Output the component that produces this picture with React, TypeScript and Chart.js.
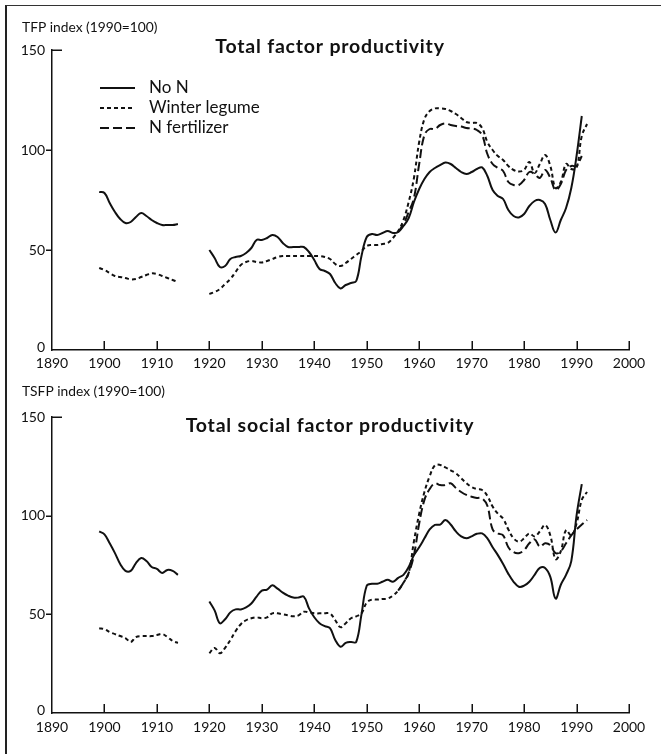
import React, { useEffect, useRef } from "react";
import { Chart, registerables } from "chart.js";

Chart.register(...registerables);

// ---------- DATA ----------
const years = [
  1899,
  1900, 1901, 1902, 1903, 1904, 1905, 1906, 1907, 1908, 1909,
  1910, 1911, 1912, 1913, 1914, 1915, 1916, 1917, 1918, 1919,
  1920, 1921, 1922, 1923, 1924, 1925, 1926, 1927, 1928, 1929,
  1930, 1931, 1932, 1933, 1934, 1935, 1936, 1937, 1938, 1939,
  1940, 1941, 1942, 1943, 1944, 1945, 1946, 1947, 1948, 1949,
  1950, 1951, 1952, 1953, 1954, 1955, 1956, 1957, 1958, 1959,
  1960, 1961, 1962, 1963, 1964, 1965, 1966, 1967, 1968, 1969,
  1970, 1971, 1972, 1973, 1974, 1975, 1976, 1977, 1978, 1979,
  1980, 1981, 1982, 1983, 1984, 1985, 1986, 1987, 1988, 1989,
  1990, 1991, 1992,
];

const seriesLabels = ["No N", "Winter legume", "N fertilizer"];

const tfpNoN = [
  79,
  78.5, 73.5, 69, 65.5, 63.5, 64, 66.5, 68.5, 67, 65,
  63.5, 62.5, 62.5, 62.5, 63, null, null, null, null, null,
  50, 46, 41.5, 42, 45.5, 46.5, 47, 48.5, 51, 55,
  55, 56, 57.5, 56.5, 53.5, 51.5, 51.5, 51.5, 51.5, 49,
  45, 40.5, 39.5, 38, 33.5, 30.8, 32.5, 33.5, 34.5, 47,
  56.5, 58, 57.5, 58.5, 59.5, 58.5, 59, 62, 66, 74,
  80.5, 85.5, 89, 91, 92.5, 93.7, 93, 91, 89, 88,
  89, 90.5, 91.3, 87, 80, 77, 75.5, 70, 67, 66.3,
  68, 72, 74.5, 75, 73, 65, 58.7, 65, 71, 81,
  97, 117, null,
];

const tfpWinterLegume = [
  41,
  40, 38.5, 37, 36.5, 36, 35.3, 35.5, 36.5, 37.5, 38.3,
  38, 37, 36, 35, 34, null, null, null, null, null,
  28, 29, 30.5, 33, 35.5, 39, 42.5, 44, 44.5, 44,
  43.8, 44.5, 45.5, 46.5, 47, 47, 47, 47, 47, 47,
  47, 47, 46.5, 45.5, 43, 42, 43.5, 45.5, 47.5, 49.5,
  52, 52.5, 52.5, 53, 53.5, 56, 59.5, 65, 74, 86,
  104, 115.5, 119.5, 120.8, 120.8, 120.5, 119.5, 118, 116, 114,
  113.5, 113.5, 111, 104, 100, 97, 95, 92, 90, 89.2,
  90, 94, 88.5, 93, 97.5, 92, 81, 84, 93, 90.5,
  91, 107, 113,
];

const tfpNFertilizer = [
  null,
  null, null, null, null, null, null, null, null, null, null,
  null, null, null, null, null, null, null, null, null, null,
  null, null, null, null, null, null, null, null, null, null,
  null, null, null, null, null, null, null, null, null, null,
  null, null, null, null, null, null, null, null, null, null,
  null, null, null, null, null, null, 59, 63, 69, 76,
  93, 107.5, 110.5, 110.5, 112.5, 113.3, 112.5, 112, 111.7, 111,
  110.8, 110, 107.5, 98, 93, 91, 89.5, 84, 82.5, 82.5,
  85, 89, 88, 86, 90, 86, 80, 83, 90, 92,
  92, 97, null,
];

const tsfpNoN = [
  92,
  90.5, 86, 81, 75.5, 72, 72, 76, 78.5, 77, 74,
  73, 71, 72.5, 72, 70, null, null, null, null, null,
  56.5, 52, 45.5, 47.5, 51, 52.5, 52.5, 53.5, 55.5, 59,
  62, 62.5, 64.7, 63, 61, 59.5, 58.5, 58.5, 59, 53,
  48.5, 45.5, 44, 43, 37, 33.6, 35.5, 36, 36, 50,
  64.5, 65.5, 65.5, 66.5, 67.5, 66.5, 68.5, 70, 74, 80,
  84, 88.5, 93, 95.3, 95.5, 97.8, 95.5, 92, 89.5, 88.5,
  89.5, 90.8, 91, 88.5, 84, 80, 75.5, 70.5, 66.5, 64,
  64.5, 66.5, 70, 73.5, 73.5, 69, 58, 65, 70, 77,
  100, 116, null,
];

const tsfpWinterLegume = [
  43,
  42.5, 41, 40, 39, 38, 36, 38.5, 39, 39, 39,
  39.5, 40, 38.5, 36.5, 35.5, null, null, null, null, null,
  30.3, 33, 30.3, 33, 37, 41.5, 45, 47, 48, 48.5,
  48, 48.5, 50.5, 50.5, 50, 49.5, 49, 49.5, 51.3, 51,
  50.5, 50.5, 50.5, 50.5, 47, 43.5, 45.5, 48, 49, 50.5,
  56, 57.5, 57.5, 57.8, 58, 59.5, 62, 66, 71, 87,
  101, 112, 120, 125.5, 125.7, 124.5, 123, 121.5, 119, 116.5,
  114.5, 113.5, 113, 110, 104.6, 101, 98.5, 93, 88.5, 86.8,
  88.5, 91, 89.5, 92, 95.3, 90, 78, 82, 92.7, 90,
  96, 108, 112,
];

const tsfpNFertilizer = [
  null,
  null, null, null, null, null, null, null, null, null, null,
  null, null, null, null, null, null, null, null, null, null,
  null, null, null, null, null, null, null, null, null, null,
  null, null, null, null, null, null, null, null, null, null,
  null, null, null, null, null, null, null, null, null, null,
  null, null, null, null, null, null, 62, 66, 71, 80,
  96, 108, 113.5, 116.4, 115.5, 115.5, 116.4, 114, 112, 110.5,
  109.6, 109, 108.8, 105, 93, 91, 90, 84, 81.5, 81,
  82.5, 86, 88, 84.3, 86, 85, 81, 82, 86, 90,
  93, 95.5, 97.8,
];

const xTickLabels = [1890, 1900, 1910, 1920, 1930, 1940, 1950, 1960, 1970, 1980, 1990, 2000];
const yTickLabels = [0, 50, 100, 150];

// ---------- CHART ----------
const FONT = "Lato, 'Open Sans', sans-serif";

const decorPlugin = {
  id: "decor",
  afterDraw(chart: any, _args: any, opts: any) {
    const ctx = chart.ctx as any;
    const xs = chart.scales.x;
    const ys = chart.scales.y;
    const x0 = xs.getPixelForValue(xTickLabels[0]);
    const y0 = ys.getPixelForValue(0);
    ctx.save();
    ctx.strokeStyle = "#111";
    ctx.fillStyle = "#111";
    ctx.lineWidth = 1.5;
    // x tick marks (pointing up into the plot)
    xTickLabels.forEach((v, i) => {
      if (i === 0) return;
      const px = Math.round(xs.getPixelForValue(v)) + 0.25;
      ctx.beginPath();
      ctx.moveTo(px, y0);
      ctx.lineTo(px, y0 - 9);
      ctx.stroke();
    });
    // y tick marks
    yTickLabels.forEach((v) => {
      if (v === 0) return;
      const py = Math.round(ys.getPixelForValue(v)) + 0.25;
      ctx.beginPath();
      if (v === yTickLabels[yTickLabels.length - 1]) {
        ctx.moveTo(x0, py);
        ctx.lineTo(x0 + 10, py);
      } else {
        ctx.moveTo(x0 - 6, py);
        ctx.lineTo(x0, py);
      }
      ctx.stroke();
    });
    // y tick labels
    ctx.font = `14px ${FONT}`;
    ctx.textAlign = "right";
    ctx.textBaseline = "middle";
    yTickLabels.forEach((v) => {
      const py = ys.getPixelForValue(v) - (v === 0 ? 3 : 0);
      ctx.fillText(String(v), x0 - 7, py);
    });
    // axis title
    ctx.textAlign = "left";
    ctx.font = `13.8px ${FONT}`;
    ctx.fillText(opts.yTitle, 22, opts.yTitleY);
    // main title
    ctx.textAlign = "center";
    ctx.textBaseline = "alphabetic";
    ctx.font = `bold 19.5px ${FONT}`;
    ctx.letterSpacing = "0.8px";
    ctx.fillText(opts.title, 330, opts.titleBaseline);
    ctx.letterSpacing = "0px";
    // legend
    if (opts.legend) {
      chart.data.datasets.forEach((ds: any, i: number) => {
        const y = 88 + i * 20;
        ctx.setLineDash(ds.borderDash || []);
        ctx.lineWidth = ds.borderWidth;
        ctx.beginPath();
        ctx.moveTo(100, y);
        ctx.lineTo(135, y);
        ctx.stroke();
        ctx.setLineDash([]);
        ctx.font = `17px ${FONT}`;
        ctx.textAlign = "left";
        ctx.textBaseline = "middle";
        ctx.fillText(ds.label, 149, y);
      });
    }
    ctx.restore();
  },
};

type PanelProps = {
  width: number;
  height: number;
  padTop: number;
  xAxisH: number;
  xLabelPad: number;
  yTitle: string;
  yTitleY: number;
  title: string;
  titleBaseline: number;
  values: (number | null)[][];
  legend: boolean;
};

const dashes: number[][] = [[], [4, 3], [9, 4]];

function Panel(p: PanelProps) {
  const ref = useRef<HTMLCanvasElement>(null);
  useEffect(() => {
    if (!ref.current) return;
    const chart = new Chart(ref.current, {
      type: "line",
      data: {
        datasets: p.values.map((vals, i) => ({
          label: seriesLabels[i],
          data: years.map((x, j) => ({ x, y: vals[j] })),
          borderColor: "#111",
          borderWidth: 2,
          borderDash: dashes[i],
          pointRadius: 0,
          tension: 0.4,
          spanGaps: false,
          fill: false,
        })),
      },
      options: {
        animation: false,
        responsive: false,
        maintainAspectRatio: false,
        devicePixelRatio: 1,
        layout: { padding: { top: p.padTop, right: 32, left: 0, bottom: 0 } },
        plugins: {
          legend: { display: false },
          tooltip: { enabled: false },
          decor: {
            yTitle: p.yTitle,
            yTitleY: p.yTitleY,
            title: p.title,
            titleBaseline: p.titleBaseline,
            legend: p.legend,
          },
        } as any,
        scales: {
          x: {
            type: "linear",
            min: xTickLabels[0],
            max: xTickLabels[xTickLabels.length - 1],
            afterFit: (s: any) => {
              s.height = p.xAxisH;
            },
            afterBuildTicks: (s: any) => {
              s.ticks = xTickLabels.map((v) => ({ value: v }));
            },
            ticks: {
              callback: (v: any) => String(v),
              font: { family: FONT, size: 14 },
              color: "#111",
              padding: p.xLabelPad,
              maxRotation: 0,
              autoSkip: false,
            },
            grid: { display: false, drawTicks: false },
            border: { display: true, color: "#111", width: 1.5 },
          },
          y: {
            type: "linear",
            min: yTickLabels[0],
            max: yTickLabels[yTickLabels.length - 1],
            afterFit: (s: any) => {
              s.width = 52;
            },
            ticks: { display: false },
            grid: { display: false, drawTicks: false },
            border: { display: true, color: "#111", width: 1.5 },
          },
        },
      },
      plugins: [decorPlugin as any],
    });
    return () => chart.destroy();
  }, []);
  return (
    <canvas
      ref={ref}
      width={p.width}
      height={p.height}
      style={{ display: "block", width: p.width, height: p.height }}
    />
  );
}

export default function App() {
  return (
    <div
      style={{
        position: "absolute",
        left: 0,
        top: 0,
        width: 661,
        height: 754,
        overflow: "hidden",
        background: "#fff",
      }}
    >
      <div
        style={{
          position: "absolute",
          left: 5,
          top: 5,
          width: 720,
          height: 800,
          borderTop: "1.5px solid #333",
          borderLeft: "2px solid #222",
        }}
      />
      <div style={{ position: "absolute", left: 0, top: 0 }}>
        <Panel
          width={661}
          height={370}
          padTop={50}
          xAxisH={20}
          xLabelPad={5}
          yTitle="TFP index (1990=100)"
          yTitleY={28}
          title="Total factor productivity"
          titleBaseline={53}
          values={[tfpNoN, tfpWinterLegume, tfpNFertilizer]}
          legend={true}
        />
      </div>
      <div style={{ position: "absolute", left: 0, top: 370 }}>
        <Panel
          width={661}
          height={384}
          padTop={47}
          xAxisH={41}
          xLabelPad={6}
          yTitle="TSFP index (1990=100)"
          yTitleY={22}
          title="Total social factor productivity"
          titleBaseline={62}
          values={[tsfpNoN, tsfpWinterLegume, tsfpNFertilizer]}
          legend={false}
        />
      </div>
    </div>
  );
}
